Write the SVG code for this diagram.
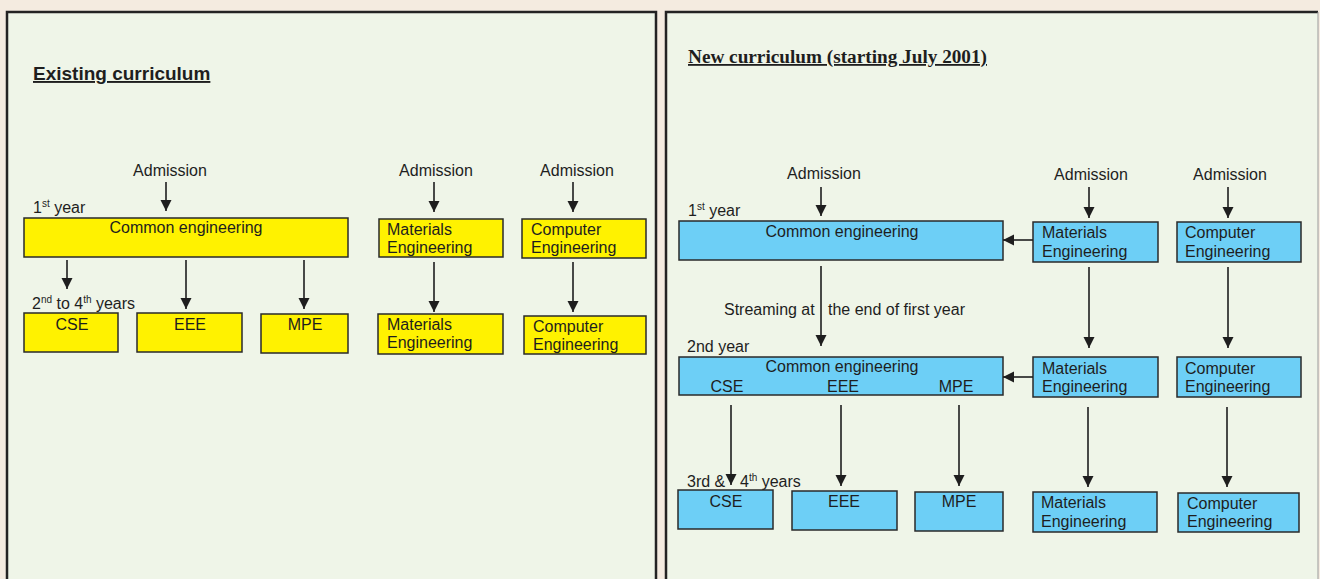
<svg xmlns="http://www.w3.org/2000/svg" width="1320" height="579" viewBox="0 0 1320 579">
<defs>
<marker id="ah" markerUnits="userSpaceOnUse" markerWidth="12" markerHeight="12" refX="11" refY="5.5" orient="auto">
<path d="M0,0 L11,5.5 L0,11 z" fill="#1e1e1e"/>
</marker>
<style>
.t{font-family:"Liberation Sans",Arial,sans-serif;font-size:16px;fill:#1e1e1e}
.c{text-anchor:middle}
.sup{font-size:10px}
.y{fill:#fff200;stroke:#2a2a2a;stroke-width:1.5}
.b{fill:#6dcff6;stroke:#2a2a2a;stroke-width:1.5}
.a{stroke:#1e1e1e;stroke-width:1.6;fill:none;marker-end:url(#ah)}
.panel{fill:#eff5e8}
.edge{stroke:#232323;stroke-width:2.5;fill:none}
</style>
</defs>
<rect width="1320" height="579" fill="#f4ebe0"/>
<g id="panel-left">
<rect class="panel" x="6" y="11" width="651" height="580"/>
<path class="edge" d="M7,579 V12 H656 V579"/>
<text x="33" y="80" style="font-family:'Liberation Sans',Arial,sans-serif;font-weight:bold;font-size:19px;fill:#1e1e1e;text-decoration:underline">Existing curriculum</text>
</g>
<g id="panel-right">
<rect class="panel" x="665" y="11" width="653" height="580"/>
<path class="edge" d="M666,579 V12 H1318"/>
<path d="M1318,12 V579" stroke="#9a9a9a" stroke-width="1" fill="none"/>
<text x="688" y="63" textLength="299" lengthAdjust="spacingAndGlyphs" style="font-family:'Liberation Serif','Times New Roman',serif;font-weight:bold;font-size:18px;fill:#1e1e1e;text-decoration:underline">New curriculum (starting July 2001)</text>
</g>

<g id="labels-left">
<text class="t c" x="170" y="176">Admission</text>
<text class="t c" x="436" y="176">Admission</text>
<text class="t c" x="577" y="176">Admission</text>
<text class="t" x="33" y="213">1<tspan class="sup" dy="-6">st</tspan><tspan dy="6"> year</tspan></text>
<text class="t" x="32" y="309">2<tspan class="sup" dy="-6">nd</tspan><tspan dy="6"> to 4</tspan><tspan class="sup" dy="-6">th</tspan><tspan dy="6"> years</tspan></text>
</g>

<g id="L-common"><rect class="y" x="24" y="218" width="324" height="39"/><text class="t c" x="186" y="233">Common engineering</text></g>
<g id="L-cse"><rect class="y" x="24" y="313" width="94" height="39"/><text class="t c" x="72" y="330">CSE</text></g>
<g id="L-eee"><rect class="y" x="137" y="313" width="105" height="39"/><text class="t c" x="190" y="330">EEE</text></g>
<g id="L-mpe"><rect class="y" x="261" y="314" width="87" height="39"/><text class="t c" x="305" y="330">MPE</text></g>
<g id="L-mat1"><rect class="y" x="379" y="219" width="124" height="38"/><text class="t" x="387" y="235">Materials<tspan x="387" y="253">Engineering</tspan></text></g>
<g id="L-comp1"><rect class="y" x="522" y="219" width="124" height="39"/><text class="t" x="531" y="235">Computer<tspan x="531" y="253">Engineering</tspan></text></g>
<g id="L-mat2"><rect class="y" x="378" y="314" width="125" height="40"/><text class="t" x="387" y="330">Materials<tspan x="387" y="348">Engineering</tspan></text></g>
<g id="L-comp2"><rect class="y" x="524" y="316" width="122" height="38"/><text class="t" x="533" y="332">Computer<tspan x="533" y="350">Engineering</tspan></text></g>

<g id="labels-right">
<text class="t c" x="824" y="179">Admission</text>
<text class="t c" x="1091" y="180">Admission</text>
<text class="t c" x="1230" y="180">Admission</text>
<text class="t" x="688" y="216">1<tspan class="sup" dy="-6">st</tspan><tspan dy="6"> year</tspan></text>
<text class="t" x="724" y="315">Streaming at<tspan x="828">the end of first year</tspan></text>
<text class="t" x="687" y="352">2nd year</text>
<text class="t" x="687" y="487">3rd &amp;<tspan x="740">4</tspan><tspan class="sup" dy="-6">th</tspan><tspan dy="6"> years</tspan></text>
</g>

<g id="R-common1"><rect class="b" x="679" y="221" width="324" height="39"/><text class="t c" x="842" y="237">Common engineering</text></g>
<g id="R-common2"><rect class="b" x="679" y="357" width="324" height="38"/><text class="t c" x="842" y="372">Common engineering</text><text class="t c" x="727" y="392">CSE</text><text class="t c" x="843" y="392">EEE</text><text class="t c" x="956" y="392">MPE</text></g>
<g id="R-cse"><rect class="b" x="678" y="490" width="95" height="39"/><text class="t c" x="726" y="507">CSE</text></g>
<g id="R-eee"><rect class="b" x="792" y="491" width="105" height="39"/><text class="t c" x="844" y="507">EEE</text></g>
<g id="R-mpe"><rect class="b" x="915" y="492" width="88" height="39"/><text class="t c" x="959" y="507">MPE</text></g>
<g id="R-mat1"><rect class="b" x="1033" y="222" width="125" height="40"/><text class="t" x="1042" y="238">Materials<tspan x="1042" y="257">Engineering</tspan></text></g>
<g id="R-comp1"><rect class="b" x="1177" y="222" width="124" height="40"/><text class="t" x="1185" y="238">Computer<tspan x="1185" y="257">Engineering</tspan></text></g>
<g id="R-mat2"><rect class="b" x="1033" y="357" width="125" height="40"/><text class="t" x="1042" y="374">Materials<tspan x="1042" y="392">Engineering</tspan></text></g>
<g id="R-comp2"><rect class="b" x="1177" y="357" width="124" height="40"/><text class="t" x="1185" y="374">Computer<tspan x="1185" y="392">Engineering</tspan></text></g>
<g id="R-mat3"><rect class="b" x="1033" y="492" width="124" height="40"/><text class="t" x="1041" y="508">Materials<tspan x="1041" y="527">Engineering</tspan></text></g>
<g id="R-comp3"><rect class="b" x="1178" y="493" width="121" height="39"/><text class="t" x="1187" y="509">Computer<tspan x="1187" y="527">Engineering</tspan></text></g>

<g id="connectors">
<line class="a" x1="166" y1="182" x2="166" y2="211"/>
<line class="a" x1="67" y1="260" x2="67" y2="289"/>
<line class="a" x1="186" y1="260" x2="186" y2="309"/>
<line class="a" x1="304" y1="260" x2="304" y2="309"/>
<line class="a" x1="434" y1="182" x2="434" y2="212"/>
<line class="a" x1="573" y1="182" x2="573" y2="212"/>
<line class="a" x1="434" y1="262" x2="434" y2="312"/>
<line class="a" x1="573" y1="262" x2="573" y2="312"/>
<line class="a" x1="821" y1="187" x2="821" y2="216"/>
<line class="a" x1="821" y1="266" x2="821" y2="346"/>
<line class="a" x1="731" y1="405" x2="731" y2="485"/>
<line class="a" x1="841" y1="405" x2="841" y2="486"/>
<line class="a" x1="959" y1="405" x2="959" y2="486"/>
<line class="a" x1="1089" y1="187" x2="1089" y2="218"/>
<line class="a" x1="1228" y1="187" x2="1228" y2="218"/>
<line class="a" x1="1033" y1="240" x2="1003" y2="240"/>
<line class="a" x1="1089" y1="267" x2="1089" y2="348"/>
<line class="a" x1="1228" y1="267" x2="1228" y2="348"/>
<line class="a" x1="1033" y1="377" x2="1003" y2="377"/>
<line class="a" x1="1088" y1="407" x2="1088" y2="487"/>
<line class="a" x1="1227" y1="407" x2="1227" y2="487"/>
</g>
</svg>
